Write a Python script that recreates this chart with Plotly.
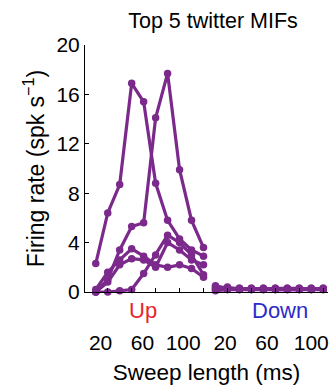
import plotly.graph_objects as go

# ---- data ----
up_index = [0, 1, 2, 3, 4, 5, 6, 7, 8, 9]
down_index = [10, 11, 12, 13, 14, 15, 16, 17, 18, 19]

up_series = {
    "A": [2.3, 6.4, 8.7, 16.9, 15.4, 8.8, 5.8, 4.3, 3.4, 2.9],
    "B": [0.0, 1.0, 3.4, 5.3, 5.6, 14.1, 17.7, 9.9, 5.8, 3.6],
    "C": [0.2, 1.6, 2.6, 3.5, 2.9, 2.2, 2.0, 2.2, 1.9, 1.2],
    "D": [0.0, 0.8, 2.2, 2.7, 2.6, 2.0, 4.0, 3.4, 2.6, 2.2],
    "E": [0.0, 0.0, 0.1, 0.2, 1.5, 3.0, 4.6, 4.0, 3.0, 1.4],
}
down_series = {
    "A": [0.5, 0.3, 0.3, 0.2, 0.3, 0.2, 0.3, 0.3, 0.2, 0.3],
    "B": [0.3, 0.4, 0.2, 0.3, 0.2, 0.3, 0.2, 0.2, 0.3, 0.2],
    "C": [0.2, 0.2, 0.3, 0.2, 0.3, 0.2, 0.2, 0.3, 0.2, 0.2],
    "D": [0.4, 0.3, 0.2, 0.2, 0.2, 0.3, 0.3, 0.2, 0.2, 0.3],
    "E": [0.1, 0.2, 0.2, 0.3, 0.2, 0.2, 0.2, 0.2, 0.3, 0.2],
}

label_pos = [0.4, 3.9, 7.3, 10.8, 14.3, 18.0]
label_text = ["20", "60", "100", "20", "60", "100"]
minor_ticks = [1, 3, 5, 7, 9, 11, 13, 15, 17, 19]
y_ticks = [0, 4, 8, 12, 16, 20]

PURPLE = "#7B2A8C"
FONT = "Liberation Sans, Arial, sans-serif"

fig = go.Figure()
for name in up_series:
    for xs, ys in ((up_index, up_series[name]), (down_index, down_series[name])):
        fig.add_trace(go.Scatter(
            x=xs, y=ys, mode="lines+markers",
            line=dict(color=PURPLE, width=3.2),
            marker=dict(color=PURPLE, size=7.5),
            cliponaxis=False, showlegend=False, xaxis="x", yaxis="y",
        ))

# invisible trace to activate overlaying axis for tick marks
fig.add_trace(go.Scatter(x=[minor_ticks[0]], y=[0], mode="markers",
                         marker=dict(opacity=0), xaxis="x2", yaxis="y",
                         showlegend=False, hoverinfo="skip"))

xr = [-0.9, 19.4]
fig.update_layout(
    width=336, height=392,
    margin=dict(l=85, r=8, t=45, b=100),
    paper_bgcolor="white", plot_bgcolor="white",
    font=dict(family=FONT, color="black", size=21),
    title=dict(text="Top 5 twitter MIFs", x=0.634, xref="container", xanchor="center",
               y=0.949, yanchor="middle", yref="container",
               font=dict(size=21.5, color="black")),
    xaxis=dict(range=xr, tickvals=label_pos, ticktext=label_text,
               ticks="", showgrid=False, zeroline=False,
               showline=True, linecolor="black", linewidth=1,
               ticklabelstandoff=32, tickfont=dict(size=21),
               title=dict(text="Sweep length (ms)", font=dict(size=22.5), standoff=11)),
    xaxis2=dict(range=xr, overlaying="x", side="bottom", tickvals=minor_ticks,
                showticklabels=False, ticks="inside", ticklen=4, tickcolor="black",
                showgrid=False, zeroline=False, showline=False),
    yaxis=dict(range=[0, 20], tickvals=y_ticks, ticks="inside", ticklen=4,
               tickcolor="black", showgrid=False, zeroline=False,
               showline=True, linecolor="black", linewidth=1,
               tickfont=dict(size=21),
               title=dict(text="Firing rate (spk s<sup>−1</sup>)", font=dict(size=23), standoff=5)),
    annotations=[
        dict(text="Up", x=3.95, y=-0.075, xref="x", yref="paper", yanchor="middle",
             showarrow=False, font=dict(size=22, color="#E5262A")),
        dict(text="Down", x=15.4, y=-0.075, xref="x", yref="paper", yanchor="middle",
             showarrow=False, font=dict(size=22, color="#2B2BC9")),
    ],
)

fig.write_html("out.html")
